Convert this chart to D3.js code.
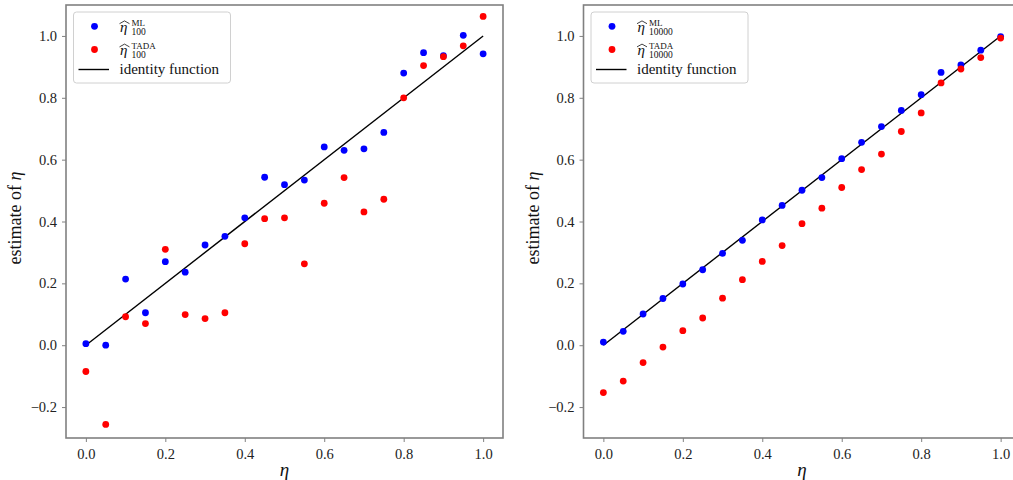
<!DOCTYPE html>
<html>
<head>
<meta charset="utf-8">
<script src="https://cdn.jsdelivr.net/npm/d3@7"></script>
<style>
  html, body { margin: 0; padding: 0; background: #fff; overflow: hidden; }
  text { font-family: "Liberation Serif", "DejaVu Serif", serif; }
</style>
</head>
<body>
<div id="chart"></div>
<script>
// eta grid used by both panels
const eta = [0, 0.05, 0.1, 0.15, 0.2, 0.25, 0.3, 0.35, 0.4, 0.45, 0.5,
             0.55, 0.6, 0.65, 0.7, 0.75, 0.8, 0.85, 0.9, 0.95, 1.0];

// n = 100
const ml100   = [0.005, 0.0, 0.214, 0.105, 0.270, 0.236, 0.324, 0.352, 0.412, 0.543, 0.519,
                 0.534, 0.641, 0.630, 0.635, 0.688, 0.880, 0.946, 0.936, 1.002, 0.942];
const tada100 = [-0.085, -0.256, 0.092, 0.070, 0.310, 0.099, 0.086, 0.105, 0.328, 0.409, 0.412,
                 0.263, 0.459, 0.542, 0.431, 0.472, 0.800, 0.904, 0.933, 0.968, 1.063];

// n = 10000
const ml10000   = [0.010, 0.045, 0.101, 0.151, 0.198, 0.244, 0.297, 0.339, 0.405, 0.452, 0.501,
                   0.542, 0.603, 0.656, 0.707, 0.759, 0.810, 0.882, 0.906, 0.954, 0.998];
const tada10000 = [-0.153, -0.116, -0.056, -0.006, 0.047, 0.088, 0.152, 0.212, 0.271, 0.322, 0.393,
                   0.443, 0.510, 0.568, 0.618, 0.691, 0.751, 0.848, 0.893, 0.930, 0.993];

const xTicks = [0, 0.2, 0.4, 0.6, 0.8, 1.0];
const yTicks = [-0.2, 0, 0.2, 0.4, 0.6, 0.8, 1.0];

const W = 1013, H = 480;
const svg = d3.select('#chart').append('svg')
    .attr('width', W).attr('height', H)
    .style('display', 'block');

const spineColor = '#808080';
const R = 3.4; // marker radius

// wide hat eta with super and subscript
function etaHat(g, x, my, sup, sub) {
    g.append('text').attr('x', x).attr('y', my + 5.5)
        .attr('font-size', 15).attr('font-style', 'italic').attr('fill', '#111')
        .text('η');
    g.append('path')
        .attr('d', 'M' + (x - 0.5) + ',' + (my - 2.6) + 'L' + (x + 4.5) + ',' + (my - 5.4) + 'L' + (x + 9.5) + ',' + (my - 2.6))
        .attr('fill', 'none').attr('stroke', '#111').attr('stroke-width', 0.8);
    g.append('text').attr('x', x + 11.5).attr('y', my - 0.2)
        .attr('font-size', 9).attr('fill', '#111').text(sup);
    g.append('text').attr('x', x + 11.5).attr('y', my + 8.6)
        .attr('font-size', 9.5).attr('fill', '#111').text(sub);
}

function panel(cfg) {
    const x = d3.scaleLinear().domain([-0.05, 1.05]).range([cfg.left, cfg.left + 437]);
    const y = d3.scaleLinear().domain([-0.3, 1.1]).range([438, 5]);
    const g = svg.append('g');

    // axes
    const fmt = d3.format('.1f');
    const ax = g.append('g').attr('transform', 'translate(0,438)')
        .call(d3.axisBottom(x).tickValues(xTicks).tickFormat(fmt).tickSize(4).tickPadding(4));
    const ay = g.append('g').attr('transform', 'translate(' + cfg.left + ',0)')
        .call(d3.axisLeft(y).tickValues(yTicks).tickFormat(fmt).tickSize(4).tickPadding(5));
    [ax, ay].forEach(a => {
        a.select('.domain').remove();
        a.selectAll('.tick line').attr('stroke', spineColor).attr('stroke-width', 1);
        a.selectAll('.tick text').attr('font-size', 14.5)
            .attr('font-family', '"Liberation Serif", serif').attr('fill', '#222');
    });
    ax.selectAll('.tick text').attr('dy', '0.9em');

    // identity line
    g.append('line')
        .attr('x1', x(0)).attr('y1', y(0)).attr('x2', x(1)).attr('y2', y(1))
        .attr('stroke', '#000').attr('stroke-width', 1.4);

    // scatter
    g.append('g').selectAll('circle').data(cfg.ml).join('circle')
        .attr('cx', (d, i) => x(eta[i])).attr('cy', d => y(d))
        .attr('r', R).attr('fill', '#0000ff');
    g.append('g').selectAll('circle').data(cfg.tada).join('circle')
        .attr('cx', (d, i) => x(eta[i])).attr('cy', d => y(d))
        .attr('r', R).attr('fill', '#ff0000');

    // frame
    g.append('rect')
        .attr('x', cfg.left).attr('y', 5).attr('width', 437).attr('height', 433)
        .attr('fill', 'none').attr('stroke', spineColor).attr('stroke-width', 1.6);

    // axis labels
    g.append('text')
        .attr('x', cfg.left + 218.5).attr('y', 476)
        .attr('text-anchor', 'middle').attr('font-size', 19).attr('font-style', 'italic')
        .attr('fill', '#111').text('η');
    const yl = g.append('text')
        .attr('transform', 'translate(' + (cfg.left - 45) + ',218) rotate(-90)')
        .attr('text-anchor', 'middle').attr('font-size', 18).attr('fill', '#111');
    yl.append('tspan').text('estimate of ');
    yl.append('tspan').attr('font-style', 'italic').text('η');

    // legend
    const lx = cfg.left + 7.5;
    const lg = g.append('g');
    lg.append('rect')
        .attr('x', lx).attr('y', 12).attr('width', 157).attr('height', 71)
        .attr('rx', 3).attr('fill', '#fff').attr('fill-opacity', 0.8)
        .attr('stroke', '#d0d0d0').attr('stroke-width', 1);
    lg.append('circle').attr('cx', lx + 21).attr('cy', 26.3).attr('r', R).attr('fill', '#0000ff');
    lg.append('circle').attr('cx', lx + 21).attr('cy', 49.5).attr('r', R).attr('fill', '#ff0000');
    lg.append('line').attr('x1', lx + 5).attr('x2', lx + 35.5).attr('y1', 69.5).attr('y2', 69.5)
        .attr('stroke', '#000').attr('stroke-width', 1.4);
    etaHat(lg, lx + 46.5, 26.3, 'ML', cfg.n);
    etaHat(lg, lx + 46.5, 49.5, 'TADA', cfg.n);
    lg.append('text').attr('x', lx + 46).attr('y', 74)
        .attr('font-size', 15).attr('fill', '#111').text('identity function');
}

panel({ left: 66, ml: ml100, tada: tada100, n: '100' });
panel({ left: 583.5, ml: ml10000, tada: tada10000, n: '10000' });
</script>
</body>
</html>
